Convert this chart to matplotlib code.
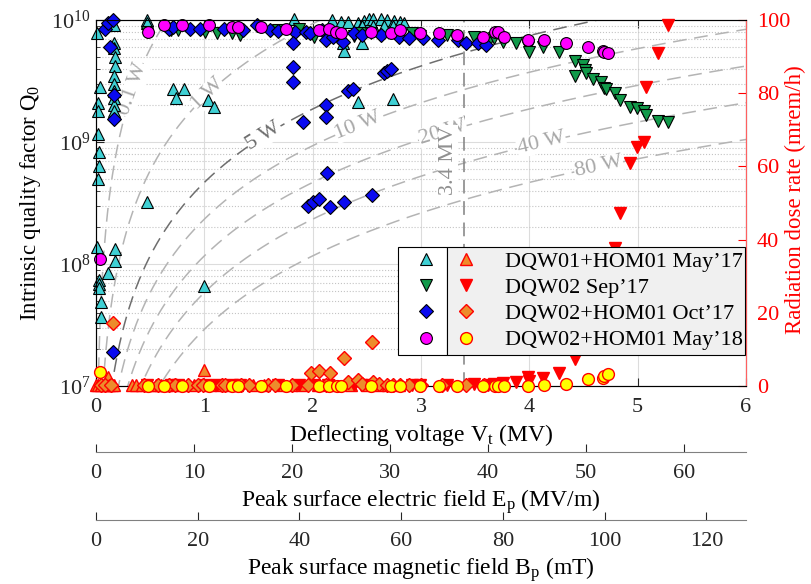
import numpy as np
import matplotlib
matplotlib.use("Agg")
import matplotlib.pyplot as plt
from matplotlib.lines import Line2D

plt.rcParams['font.family'] = ['Liberation Serif', 'DejaVu Serif']
plt.rcParams['mathtext.fontset'] = 'custom'
plt.rcParams['mathtext.rm'] = 'Liberation Serif'
plt.rcParams['mathtext.it'] = 'Liberation Serif:italic'
plt.rcParams['font.size'] = 16

# ---- Q0 vs deflecting voltage (MV) ----
vt_dqw01_may17 = [0.01, 0.04, 0.02, 0.02, 0.02, 0.03, 0.03, 0.02, 0.01, 0.03, 0.03, 0.03,
                  0.05, 0.05, 0.11, 0.18, 0.18, 0.17, 0.17, 0.17, 0.18, 0.18, 0.17, 0.17,
                  0.17, 0.17, 0.17, 0.17, 0.47, 0.47, 0.47, 0.71, 0.81, 0.74, 1.03, 1.09,
                  1.00, 1.83, 2.18, 2.26, 2.33, 2.42, 2.47, 2.52, 2.56, 2.63, 2.69, 2.75,
                  2.81, 2.84, 2.46, 2.56, 2.66, 2.74, 2.28, 2.29, 2.46, 2.42, 2.74]
q0_dqw01_may17 = [7.8e9, 2.8e9, 2.1e9, 1.8e9, 1.17e9, 8.3e8, 6.3e8, 5.0e8, 1.38e8, 7.4e7, 6.8e7, 6.3e7,
                  4.9e7, 3.7e7, 8.5e7, 1.32e8, 1.05e8, 9.1e9, 6.5e9, 5.9e9, 5.0e9, 4.2e9, 3.5e9, 3.0e9,
                  2.6e9, 2.3e9, 2.0e9, 1.8e9, 1.0e10, 9.5e9, 3.2e8, 2.7e9, 2.7e9, 2.3e9, 2.2e9, 1.95e9,
                  6.6e7, 1.02e10, 1.0e10, 9.7e9, 9.7e9, 9.4e9, 9.9e9, 1.02e10, 1.01e10, 1.01e10, 1.0e10, 9.8e9,
                  9.6e9, 9.4e9, 8.9e9, 8.9e9, 8.9e9, 8.9e9, 6.5e9, 5.6e9, 6.5e9, 2.14e9, 2.25e9]

vt_dqw02_sep17 = [0.47, 0.69, 0.76, 1.01, 1.12, 1.26, 1.33, 1.68, 1.87, 2.01, 2.14, 2.38,
                  2.45, 2.54, 2.92, 2.99, 3.24, 3.49, 3.62, 3.67, 3.76, 3.88, 3.99, 4.00,
                  4.13, 4.27, 4.42, 4.42, 4.50, 4.51, 4.52, 4.59, 4.66, 4.69, 4.71, 4.79,
                  4.84, 4.93, 4.99, 5.06, 5.08, 5.19, 5.28]
q0_dqw02_sep17 = [7.9e9, 8.3e9, 8.3e9, 7.9e9, 7.8e9, 7.8e9, 7.6e9, 8.3e9, 8.5e9, 7.2e9, 7.9e9, 7.4e9,
                  7.8e9, 7.8e9, 7.8e9, 7.4e9, 7.6e9, 7.2e9, 6.5e9, 7.1e9, 6.6e9, 6.5e9, 6.0e9, 5.5e9,
                  6.0e9, 5.5e9, 4.6e9, 3.5e9, 4.3e9, 3.9e9, 3.7e9, 3.3e9, 3.1e9, 2.75e9, 2.7e9, 2.5e9,
                  2.2e9, 1.95e9, 1.9e9, 1.8e9, 1.66e9, 1.5e9, 1.45e9]

vt_dqw02_oct17 = [0.08, 0.11, 0.16, 0.13, 0.17, 0.17, 0.16, 0.67, 0.71, 0.87, 0.96, 1.18,
                  1.36, 1.49, 1.61, 1.68, 1.84, 1.82, 1.82, 1.82, 1.94, 1.98, 2.09, 1.91,
                  2.12, 2.12, 2.12, 2.13, 2.19, 2.28, 2.38, 2.46, 2.33, 2.37, 2.63, 2.66,
                  2.69, 2.72, 2.80, 2.89, 3.02, 3.16, 3.34, 3.42, 3.53, 3.60, 1.96, 2.00,
                  2.06, 2.16, 2.29, 2.55]
q0_dqw02_oct17 = [8.5e9, 9.5e9, 1.0e10, 6.0e9, 2.45e9, 1.55e9, 1.9e7, 8.5e9, 8.7e9, 8.5e9, 8.5e9, 8.5e9,
                  8.3e9, 9.1e9, 8.3e9, 8.1e9, 7.9e9, 6.5e9, 4.1e9, 3.1e9, 7.9e9, 7.8e9, 8.3e9, 1.45e9,
                  6.9e9, 2.0e9, 1.6e9, 5.6e8, 7.2e9, 6.6e9, 7.8e9, 7.6e9, 2.6e9, 2.7e9, 7.6e9, 3.7e9,
                  3.8e9, 4.0e9, 7.2e9, 7.1e9, 7.1e9, 6.8e9, 6.8e9, 6.5e9, 6.5e9, 6.2e9, 3.0e8, 3.2e8,
                  3.4e8, 2.95e8, 3.2e8, 3.7e8]

vt_dqw02_may18 = [0.48, 0.63, 0.79, 1.04, 1.26, 1.31, 1.52, 1.75, 2.06, 2.15, 2.22, 2.26,
                  2.54, 2.72, 2.81, 2.99, 3.17, 3.33, 3.57, 3.68, 3.71, 3.77, 3.99, 4.14,
                  4.34, 4.54, 4.68, 4.69, 4.73, 0.04]
q0_dqw02_may18 = [7.9e9, 9.1e9, 9.1e9, 9.1e9, 8.7e9, 8.7e9, 8.7e9, 8.5e9, 8.3e9, 8.5e9, 7.9e9, 7.8e9,
                  7.9e9, 7.8e9, 8.3e9, 7.8e9, 7.8e9, 7.6e9, 7.2e9, 7.9e9, 7.9e9, 7.2e9, 6.9e9, 6.8e9,
                  6.5e9, 6.0e9, 5.6e9, 5.5e9, 5.4e9, 1.1e8]

# ---- radiation dose rate (mrem/h) ----
vt_dose_may17 = [0.00, 0.02, 0.05, 0.10, 0.11, 0.12, 0.15, 0.17, 0.33, 0.37, 0.42, 0.50,
                 0.55, 0.60, 0.65, 0.70, 0.80, 0.90, 1.00, 1.05, 1.15, 1.20, 1.30, 1.45,
                 1.55, 1.70, 1.80, 1.90, 2.05, 2.20, 2.35, 2.50, 2.60, 2.70, 2.80]
dose_may17 = [0.3, 0.3, 0.3, 0.3, 2.5, 0.3, 0.3, 0.3, 0.3, 0.3, 0.3, 0.3,
              0.3, 0.3, 0.3, 0.3, 0.3, 0.3, 4.4, 0.3, 0.3, 0.3, 0.3, 0.3,
              0.3, 0.3, 0.3, 0.3, 0.3, 0.3, 0.3, 0.3, 0.3, 0.3, 0.3]

dose_sep17 = [0.3, 0.3, 0.3, 0.3, 0.3, 0.3, 0.3, 0.3, 0.3, 0.3, 0.3, 0.3,
              0.3, 0.3, 0.3, 0.3, 0.3, 0.5, 0.3, 0.5, 0.8, 1.1, 2.5, 1.5,
              2.2, 3.6, 7.4, 12.0, 15.0, 18.0, 21.0, 25.0, 30.0, 33.0, 35.0, 37.7,
              47.3, 60.9, 65.3, 66.7, 81.7, 91.0, 98.6]

vt_dose_oct17 = [0.05, 0.08, 0.14, 0.16, 0.44, 0.57, 0.67, 0.73, 0.85, 0.94, 0.99, 1.16,
                 1.19, 1.34, 1.41, 1.59, 1.65, 1.81, 1.96, 1.98, 2.06, 2.12, 2.16, 2.29,
                 2.33, 2.42, 2.46, 2.55, 2.56, 2.61, 2.69, 2.74, 2.81, 2.89, 3.00, 3.19,
                 3.42, 3.58]
dose_oct17 = [0.3, 0.3, 0.3, 17.2, 0.3, 0.3, 0.3, 0.3, 0.3, 0.3, 0.3, 0.3,
              0.3, 0.3, 0.3, 0.3, 0.3, 0.3, 0.3, 3.6, 4.1, 0.3, 3.6, 7.7,
              1.0, 1.6, 0.5, 11.9, 1.2, 0.5, 0.3, 0.3, 0.3, 0.3, 0.3, 0.3,
              0.3, 0.3]

dose_may18 = [0.1, 0.1, 0.1, 0.1, 0.1, 0.1, 0.1, 0.1, 0.1, 0.1, 0.1, 0.1,
              0.1, 0.1, 0.1, 0.1, 0.1, 0.1, 0.1, 0.1, 0.1, 0.1, 0.1, 0.3,
              0.5, 1.9, 2.2, 2.7, 3.3, 3.8]

labels = ['DQW01+HOM01 May\u201917', 'DQW02 Sep\u201917',
          'DQW02+HOM01 Oct\u201917', 'DQW02+HOM01 May\u201918']

# constant dissipated power lines, P = Vt^2 / (R/Q * Q0)
RT_OVER_Q = 429.0
iso_powers = [0.1, 1, 5, 10, 20, 40, 80]
iso_label_vt = [0.34, 1.03, 1.55, 2.42, 3.20, 4.11, 4.64]
VT_LIMIT = 3.4

# field ratios for the extra x axes
EP_PER_MV = 11.05
BP_PER_MV = 21.3

W, H = 812, 584
fig = plt.figure(figsize=(W / 100, H / 100), dpi=100)
ax_l, ax_r, ax_t, ax_b = 96, 746, 20, 386
ax = fig.add_axes([ax_l / W, 1 - ax_b / H, (ax_r - ax_l) / W, (ax_b - ax_t) / H])
ax.set_yscale('log')
ax.set_xlim(0, 6)
ax.set_ylim(1e7, 1e10)

ax.grid(True, which='major', color='#dcdcdc', lw=0.8)
ax.grid(True, which='minor', axis='y', color='#c4c4c4', ls=':', lw=0.8)
ax.set_axisbelow(True)

dash = (9, 5)
v_line = np.linspace(0.001, 6, 800)
for p, vl in zip(iso_powers, iso_label_vt):
    col = '#6e6e6e' if p == 5 else '#b4b4b4'
    q_line = (v_line * 1e6) ** 2 / (RT_OVER_Q * p)
    ax.plot(v_line, q_line, color=col, lw=1.1, dashes=dash, zorder=1)
    q_lab = (vl * 1e6) ** 2 / (RT_OVER_Q * p)
    q_lab2 = ((vl + 0.01) * 1e6) ** 2 / (RT_OVER_Q * p)
    p1 = ax.transData.transform((vl, q_lab))
    p2 = ax.transData.transform((vl + 0.01, q_lab2))
    ang = np.degrees(np.arctan2(p2[1] - p1[1], p2[0] - p1[0]))
    tcol = '#6e6e6e' if p == 5 else '#a8a8a8'
    ax.text(vl, q_lab, f'{p:g} W', rotation=ang, ha='center', va='center',
            color=tcol, fontsize=16, rotation_mode='anchor', zorder=1.5,
            bbox=dict(fc='white', ec='none', pad=0.5))

ax.axvline(VT_LIMIT, color='#808080', lw=1.1, dashes=dash, zorder=1)
ax.text(VT_LIMIT - 0.15, 7.1e8, '3.4 MV', rotation=90, ha='center', va='center',
        color='#909090', fontsize=16, zorder=1.5,
        bbox=dict(fc='white', ec='none', pad=0.5))

ms = 8.5
ax.plot(vt_dqw01_may17, q0_dqw01_may17, ls='none', marker='^', ms=ms, mfc='#3fd0d4',
        mec='k', mew=0.8, clip_on=False, zorder=3)
ax.plot(vt_dqw02_sep17, q0_dqw02_sep17, ls='none', marker='v', ms=ms, mfc='#119a4a',
        mec='k', mew=0.8, clip_on=False, zorder=3)
ax.plot(vt_dqw02_oct17, q0_dqw02_oct17, ls='none', marker='D', ms=ms - 1.5, mfc='#0a0af0',
        mec='k', mew=0.8, clip_on=False, zorder=3)
ax.plot(vt_dqw02_may18, q0_dqw02_may18, ls='none', marker='o', ms=ms, mfc='#ff00ff',
        mec='k', mew=0.8, clip_on=False, zorder=3)

ax.set_ylabel('Intrinsic quality factor Q$_0$', fontsize=16.5, labelpad=6)
ax.set_xlabel('Deflecting voltage V$_\\mathrm{t}$ (MV)', fontsize=17, labelpad=3)
ax.tick_params(which='both', direction='in', top=True, right=True, labelsize=16, colors='#262626')
ax.tick_params(which='major', length=6)
ax.tick_params(which='minor', length=3)
ax.tick_params(axis='x', pad=9)
ax.tick_params(axis='y', pad=4)
for s in ax.spines.values():
    s.set_color('#404040')

ax2 = ax.twinx()
ax2.set_ylim(0, 100)
ax2.set_yticks([0, 20, 40, 60, 80, 100])
ax2.tick_params(direction='in', colors='#ff0000', labelsize=16, length=6, pad=8)
ax2.spines['right'].set_color('#ff6060')
ax2.set_ylabel('Radiation dose rate (mrem/h)', color='#ff0000', fontsize=16.5)
ax2.yaxis.set_label_coords((785 - ax_l) / (ax_r - ax_l), (ax_b - 200) / (ax_b - ax_t))
ax2.plot(vt_dose_may17, dose_may17, ls='none', marker='^', ms=ms, mfc='#f08a2a',
         mec='#ff0000', mew=1.0, clip_on=False, zorder=3)
ax2.plot(vt_dqw02_sep17, dose_sep17, ls='none', marker='v', ms=ms, mfc='#ff0000',
         mec='#ff0000', mew=1.0, clip_on=False, zorder=3)
ax2.plot(vt_dose_oct17, dose_oct17, ls='none', marker='D', ms=ms - 1.5, mfc='#ec8c2c',
         mec='#ff0000', mew=1.0, clip_on=False, zorder=3)
ax2.plot(vt_dqw02_may18, dose_may18, ls='none', marker='o', ms=ms, mfc='#ffff00',
         mec='#ff0000', mew=1.0, clip_on=False, zorder=3)

q_handles = [
    Line2D([], [], ls='none', marker='^', ms=ms, mfc='#3fd0d4', mec='k', mew=0.8),
    Line2D([], [], ls='none', marker='v', ms=ms, mfc='#119a4a', mec='k', mew=0.8),
    Line2D([], [], ls='none', marker='D', ms=ms - 1.5, mfc='#0a0af0', mec='k', mew=0.8),
    Line2D([], [], ls='none', marker='o', ms=ms, mfc='#ff00ff', mec='k', mew=0.8),
]
d_handles = [
    Line2D([], [], ls='none', marker='^', ms=ms, mfc='#f08a2a', mec='#ff0000', mew=1.0),
    Line2D([], [], ls='none', marker='v', ms=ms, mfc='#ff0000', mec='#ff0000', mew=1.0),
    Line2D([], [], ls='none', marker='D', ms=ms - 1.5, mfc='#ec8c2c', mec='#ff0000', mew=1.0),
    Line2D([], [], ls='none', marker='o', ms=ms, mfc='#ffff00', mec='#ff0000', mew=1.0),
]
leg_kw = dict(loc='upper left', mode='expand', borderaxespad=0, fancybox=False,
              framealpha=1, edgecolor='k', fontsize=16, labelspacing=0.25,
              borderpad=0.2)
y_top = (ax_b - 247) / (ax_b - ax_t)
leg_q = ax2.legend(q_handles, [' '] * 4, facecolor='white', handlelength=2.1, handletextpad=0.2,
                   bbox_to_anchor=((398 - ax_l) / (ax_r - ax_l), 0, (447 - 398) / (ax_r - ax_l), y_top),
                   **leg_kw)
leg_q.get_frame().set_linewidth(0.8)
ax2.add_artist(leg_q)
leg_d = ax2.legend(d_handles, labels, facecolor='#f0f0f0', handlelength=1.3, handletextpad=1.1,
                   bbox_to_anchor=((447 - ax_l) / (ax_r - ax_l), 0, (745 - 447) / (ax_r - ax_l), y_top),
                   **leg_kw)
leg_d.get_frame().set_linewidth(0.8)

# extra x axes for the peak surface fields
for y_px, fac, lab in [(452, EP_PER_MV, 'Peak surface electric field E$_\\mathrm{p}$ (MV/m)'),
                       (520, BP_PER_MV, 'Peak surface magnetic field B$_\\mathrm{p}$ (mT)')]:
    axf = fig.add_axes([ax_l / W, 1 - y_px / H, (ax_r - ax_l) / W, 0])
    axf.patch.set_visible(False)
    for s in ['left', 'right', 'top']:
        axf.spines[s].set_visible(False)
    axf.spines['bottom'].set_color('#808080')
    axf.set_yticks([])
    axf.set_xlim(0, 6 * fac)
    axf.tick_params(axis='x', direction='in', length=6, labelsize=16, colors='#262626', pad=9)
    axf.set_xlabel(lab, fontsize=17, labelpad=3)

fig.savefig('out.png', dpi=100)
